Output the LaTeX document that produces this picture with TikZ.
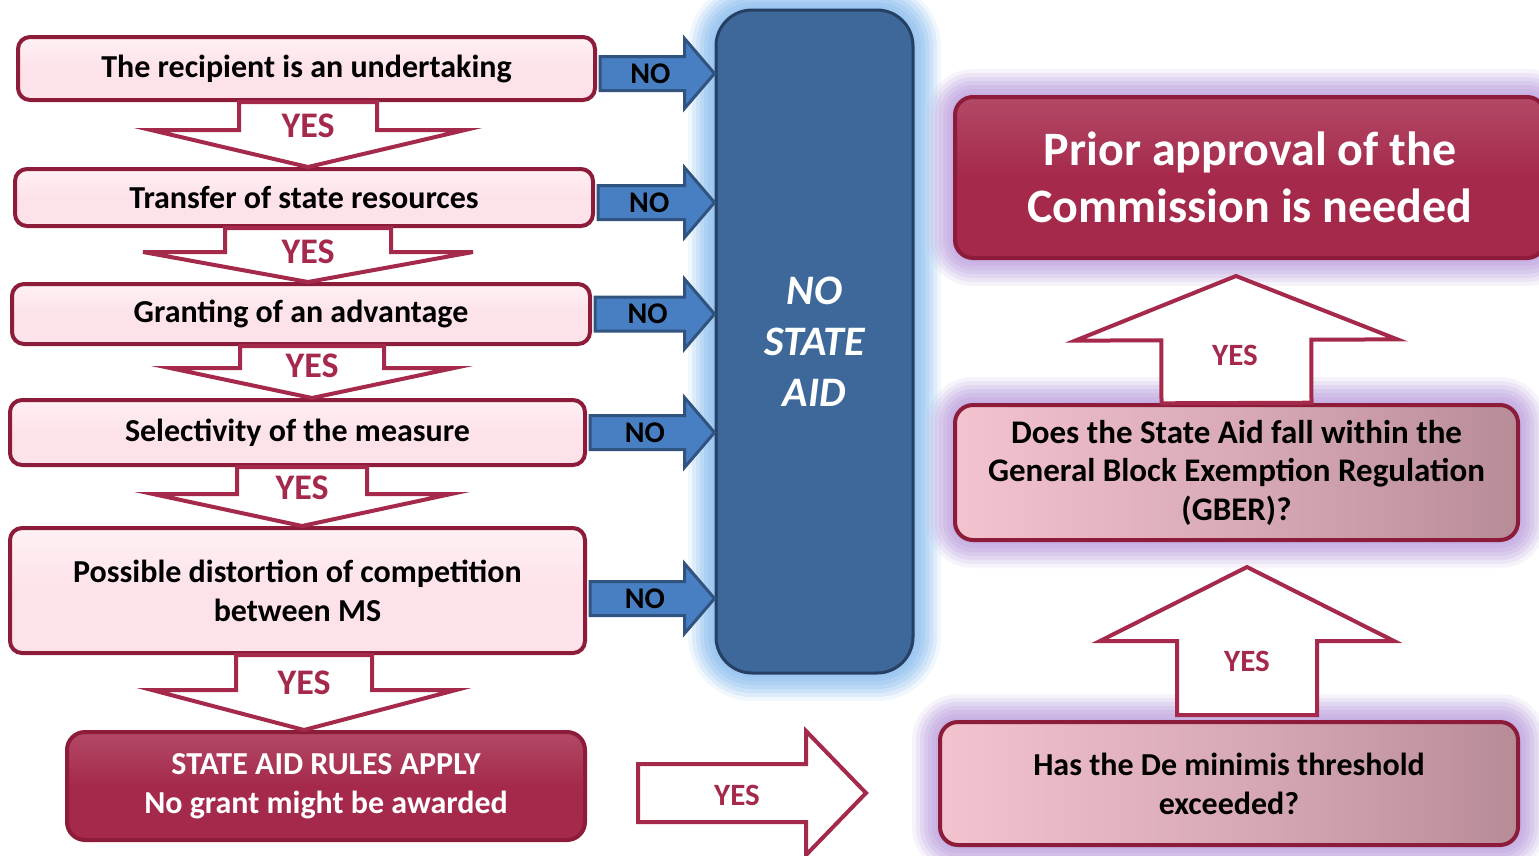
\documentclass[tikz,border=0pt]{standalone}
\usepackage{fontspec}
\setmainfont{Carlito}
\usetikzlibrary{calc}
\definecolor{mred}{RGB}{165,41,75}
\definecolor{dred}{RGB}{140,28,58}
\definecolor{mpink}{RGB}{253,226,233}
\definecolor{mblue}{RGB}{61,104,153}
\definecolor{dblue}{RGB}{38,64,100}
\definecolor{lblue}{RGB}{72,126,194}
\definecolor{glowblue}{RGB}{150,195,240}
\definecolor{glowpurple}{RGB}{195,172,225}
\definecolor{gleft}{RGB}{243,195,207}
\definecolor{gright}{RGB}{184,140,151}
\tikzset{glow/.style = {preaction={draw=#1, opacity=0.14, line width=56},
                        preaction={draw=#1, opacity=0.2, line width=48},
                        preaction={draw=#1, opacity=0.25, line width=40},
                        preaction={draw=#1, opacity=0.3, line width=32},
                        preaction={draw=#1, opacity=0.35, line width=24},
                        preaction={draw=#1, opacity=0.45, line width=16},
                        preaction={draw=#1, opacity=0.5, line width=8}}}
\tikzset{qbox/.style = {draw=dred, line width=4, rounded corners=12,
                        top color=mpink!50!white, bottom color=mpink, middle color=mpink,
                        align=center, inner sep=0,
                        font=\fontsize{32}{39}\selectfont\bfseries}}
\tikzset{rbox/.style = {qbox, fill=mred, top color=mred!85!white, bottom color=mred, middle color=mred,
                        rounded corners=18, text=white}}
\tikzset{gbox/.style = {qbox, left color=gleft, right color=gright, middle color=gleft!55!gright,
                        rounded corners=18, glow=glowpurple}}
\tikzset{aidbox/.style = {draw=dblue, line width=3, fill=mblue, rounded corners=36,
                          glow=glowblue, text=white, align=center,
                          font=\fontsize{42}{51}\selectfont\bfseries\itshape}}
\tikzset{yesarrow/.style = {draw=mred, line width=4, fill=white}}
\tikzset{noarrow/.style = {draw=dblue!70!lblue, line width=3, fill=lblue}}
\tikzset{yestext/.style = {text=mred, inner sep=0, font=\fontsize{36}{40}\selectfont\bfseries}}
\tikzset{notext/.style = {inner sep=0, font=\fontsize{30}{36}\selectfont\bfseries}}
% fat arrow: [style]{from}{to}{shaft half width}{head half width}{head length}
\newcommand{\fatarrow}[6][]{%
  \coordinate (fab) at ($(#3)!#6pt!(#2)$);
  \draw[#1] ($(#2)!#4pt!90:(#3)$) -- ($(fab)!#4pt!90:(#3)$)
    -- ($(fab)!#5pt!90:(#3)$) -- (#3) -- ($(fab)!#5pt!-90:(#3)$)
    -- ($(fab)!#4pt!-90:(#3)$) -- ($(#2)!#4pt!-90:(#3)$) -- cycle;}

\begin{document}
\begin{tikzpicture}[x=1pt, y=-1pt]
    \useasboundingbox (0, 0) rectangle (1539, 855);

    \node [aidbox, minimum width=197, minimum height=663] (aid) at (814.5, 341.5) {NO\\STATE\\AID};

    \node [qbox, minimum width=577, minimum height=63] (q1) at (306.5, 68.5) {The recipient is an undertaking};
    \node [qbox, minimum width=578, minimum height=57] (q2) at (304, 197.5) {Transfer of state resources};
    \node [qbox, minimum width=578, minimum height=60] (q3) at (301, 314) {Granting of an advantage};
    \node [qbox, minimum width=575, minimum height=65] (q4) at (297.5, 432.5) {Selectivity of the measure};
    \node [qbox, minimum width=575, minimum height=125] (q5) at (297.5, 590.5) {Possible distortion of competition\\between MS};
    \node [rbox, minimum width=518, minimum height=108] (rules) at (326, 786) {STATE AID RULES APPLY\\No grant might be awarded};

    \node [rbox, glow=glowpurple, minimum width=590, minimum height=161,
           font=\fontsize{48}{57}\selectfont\bfseries] (prior) at (1250, 177.5) {Prior approval of the\\Commission is needed};
    \node [gbox, minimum width=563, minimum height=135, font=\fontsize{33}{38.5}\selectfont\bfseries] (gber) at (1236.5, 472.5)
          {Does the State Aid fall within the\\General Block Exemption Regulation\\(GBER)?};
    \node [gbox, minimum width=578, minimum height=123] (demin) at (1229, 783.5) {Has the De minimis threshold\\exceeded?};

    % yes arrows down the left column
    \coordinate (d1s) at ($(q1.south) + (1.5, 0)$);
    \coordinate (d1e) at (d1s |- q2.north);
    \coordinate (d2s) at ($(q2.south) + (4, 0)$);
    \coordinate (d2e) at (d2s |- q3.north);
    \coordinate (d3s) at ($(q3.south) + (11, 0)$);
    \coordinate (d3e) at (d3s |- q4.north);
    \coordinate (d4s) at ($(q4.south) + (4.5, 0)$);
    \coordinate (d4e) at (d4s |- q5.north);
    \coordinate (d5s) at ($(q5.south) + (6.5, 0)$);
    \coordinate (d5e) at (d5s |- rules.north);
    \fatarrow[yesarrow]{d1s}{d1e}{69}{157}{37}
    \fatarrow[yesarrow]{d2s}{d2e}{83}{165}{30}
    \fatarrow[yesarrow]{d3s}{d3e}{72}{142}{30}
    \fatarrow[yesarrow]{d4s}{d4e}{65}{149}{32}
    \fatarrow[yesarrow]{d5s}{d5e}{68}{152}{40}
    \node [yestext] (y1) at ($(d1s) + (0, 24)$) {YES};
    \node [yestext] (y2) at ($(d2s) + (0, 24)$) {YES};
    \node [yestext] (y3) at ($(d3s) + (0, 20)$) {YES};
    \node [yestext] (y4) at ($(d4s) + (0, 21)$) {YES};
    \node [yestext] (y5) at ($(d5s) + (0, 28)$) {YES};

    % no arrows into the central box
    \foreach \i/\dy in {1/5, 2/5, 3/0, 4/0, 5/8} {
        \coordinate (s\i) at ($(q\i.east) + (3, \dy)$);
        \coordinate (e\i) at (s\i -| aid.west);
        \fatarrow[noarrow]{s\i}{e\i}{17}{35}{30}
        \node [notext] (n\i) at ($(s\i)!0.44!(e\i)$) {NO};
    }

    % yes arrows on the right
    \coordinate (rs) at (638, 793);
    \coordinate (re) at (866, 793);
    \fatarrow[yesarrow]{rs}{re}{29}{62}{60}
    \node [yestext, font=\fontsize{31}{36}\selectfont\bfseries] (yr) at (737, 795) {YES};

    \coordinate (u2s) at (1247, 715);
    \coordinate (u2e) at (1247, 567);
    \fatarrow[yesarrow]{u2s}{u2e}{70}{147}{74}
    \node [yestext, font=\fontsize{31}{36}\selectfont\bfseries] (yu2) at (1247, 661) {YES};

    \coordinate (u1e) at (1236, 276);
    \fatarrow[yesarrow]{gber.north}{u1e}{75}{161}{64}
    \node [yestext, font=\fontsize{31}{36}\selectfont\bfseries] (yu1) at (1235, 355) {YES};
\end{tikzpicture}
\end{document}
